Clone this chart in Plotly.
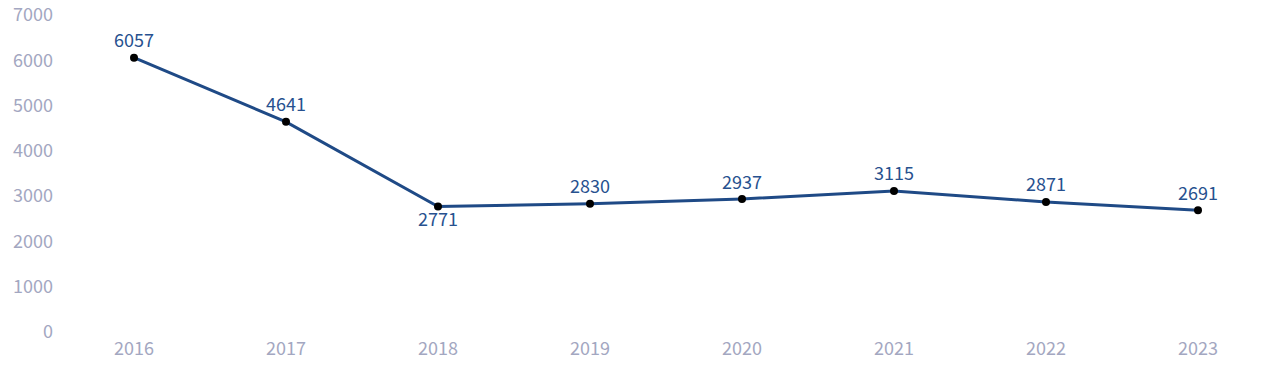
import plotly.graph_objects as go

years = ["2016", "2017", "2018", "2019", "2020", "2021", "2022", "2023"]
values = [6057, 4641, 2771, 2830, 2937, 3115, 2871, 2691]
label_positions = ["top center", "top center", "bottom center", "top center",
                   "top center", "top center", "top center", "top center"]
y_ticks = [0, 1000, 2000, 3000, 4000, 5000, 6000, 7000]

FONT = "Noto Sans CJK SC"
LINE = "#1f4a86"
LABEL = "#27518f"
TICK = "#a3a7c1"

fig = go.Figure()
fig.add_trace(go.Scatter(
    x=years, y=values, mode="lines+markers+text",
    text=[str(v) for v in values], textposition=label_positions,
    textfont=dict(family=FONT, size=18, color=LABEL),
    line=dict(color=LINE, width=3),
    marker=dict(color="#000000", size=8),
    cliponaxis=False, showlegend=False,
))
fig.update_layout(
    width=1280, height=382,
    margin=dict(l=58, r=6, t=15, b=50, autoexpand=False),
    plot_bgcolor="white", paper_bgcolor="white",
    font=dict(family=FONT, size=18, color=TICK),
)
fig.update_xaxes(type="category", range=[-0.5, 7.5], showgrid=False, zeroline=False,
                 showline=False, ticks="", automargin=False, ticklabelstandoff=4,
                 tickfont=dict(family=FONT, size=18, color=TICK))
fig.update_yaxes(range=[0, 7000], tickvals=y_ticks, showgrid=False, zeroline=False,
                 showline=False, ticks="", ticklabelstandoff=4, automargin=False,
                 tickfont=dict(family=FONT, size=18, color=TICK))
fig.write_html("out.html")
